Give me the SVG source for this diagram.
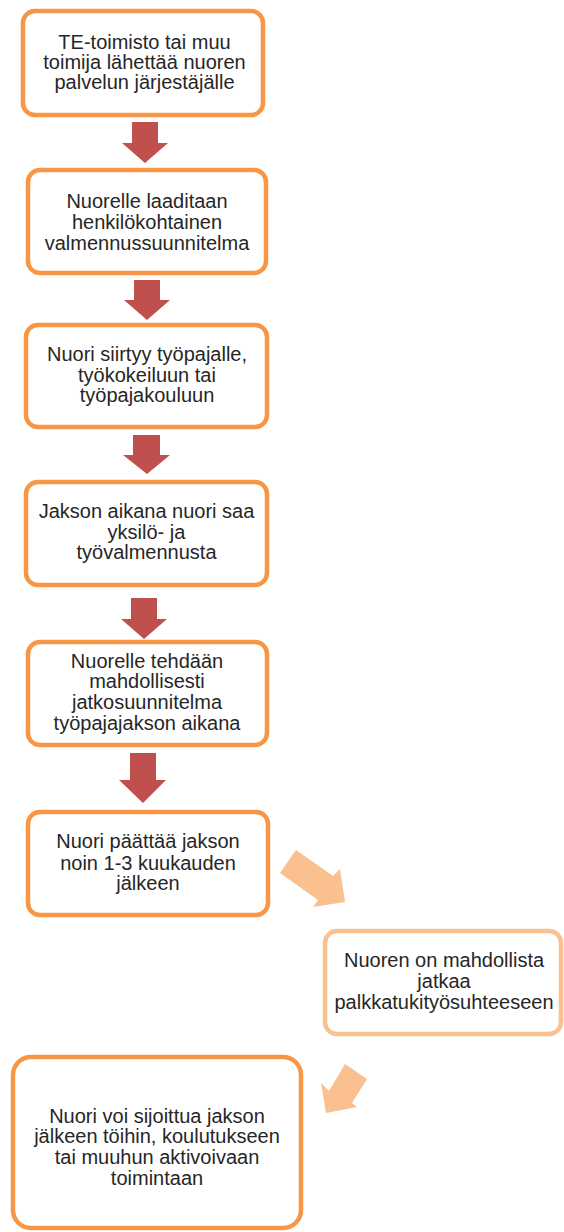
<svg xmlns="http://www.w3.org/2000/svg" width="564" height="1232" viewBox="0 0 564 1232">
<style>
.box{fill:#FFFFFF;stroke:#F79646;stroke-width:4.5}
.lbox{fill:#FFFFFF;stroke:#FAC090;stroke-width:4.5}
.t{font-family:"Liberation Sans",Arial,sans-serif;font-size:20px;fill:#262626;text-anchor:middle}
.down{fill:#C0504D}
.diag{fill:#FAC090}
</style>
<rect width="564" height="1232" fill="#FFFFFF"/>
<g id="connectors">
<polygon class="down" points="132,122 158,122 158,143 168,143 145,163 122,143 132,143"/>
<polygon class="down" points="134,280 160,280 160,300 170,300 147,320 124,300 134,300"/>
<polygon class="down" points="133,435 160,435 160,455 170,455 147,474 123,455 133,455"/>
<polygon class="down" points="131,598 157,598 157,619 167,619 144,639 121,619 131,619"/>
<polygon class="down" points="130,753 156,753 156,780 166,780 143,803 119,780 130,780"/>
<polygon class="diag" points="296,850 333,876 340,869 345,902 313,907 318,900 280,873"/>
<polygon class="diag" points="345,1064 367,1079 352,1103 357,1107 326,1113 321,1083 329,1091"/>
</g>
<g id="n1">
<rect class="box" x="23" y="11" width="240" height="104" rx="12"/>
<text class="t" x="144.5" y="49">TE-toimisto tai muu</text>
<text class="t" x="144.5" y="69">toimija lähettää nuoren</text>
<text class="t" x="144.5" y="89">palvelun järjestäjälle</text>
</g>
<g id="n2">
<rect class="box" x="28" y="170" width="238" height="103" rx="12"/>
<text class="t" x="147" y="208">Nuorelle laaditaan</text>
<text class="t" x="147" y="229">henkilökohtainen</text>
<text class="t" x="147" y="250">valmennussuunnitelma</text>
</g>
<g id="n3">
<rect class="box" x="26" y="325" width="241" height="102" rx="12"/>
<text class="t" x="147" y="361">Nuori siirtyy työpajalle,</text>
<text class="t" x="147" y="382">työkokeiluun tai</text>
<text class="t" x="147" y="402">työpajakouluun</text>
</g>
<g id="n4">
<rect class="box" x="26" y="482" width="241" height="103" rx="12"/>
<text class="t" x="146.5" y="518">Jakson aikana nuori saa</text>
<text class="t" x="146.5" y="539">yksilö- ja</text>
<text class="t" x="146.5" y="559">työvalmennusta</text>
</g>
<g id="n5">
<rect class="box" x="28" y="642" width="239" height="103" rx="12"/>
<text class="t" x="147" y="668">Nuorelle tehdään</text>
<text class="t" x="147" y="688">mahdollisesti</text>
<text class="t" x="147" y="709">jatkosuunnitelma</text>
<text class="t" x="147" y="730">työpajajakson aikana</text>
</g>
<g id="n6">
<rect class="box" x="28" y="812" width="240" height="103" rx="12"/>
<text class="t" x="148" y="848">Nuori päättää jakson</text>
<text class="t" x="148" y="870">noin 1-3 kuukauden</text>
<text class="t" x="148" y="890">jälkeen</text>
</g>
<g id="n7">
<rect class="lbox" x="325" y="931" width="236" height="103" rx="12"/>
<text class="t" x="444" y="967">Nuoren on mahdollista</text>
<text class="t" x="444" y="988">jatkaa</text>
<text class="t" x="444" y="1009">palkkatukityösuhteeseen</text>
</g>
<g id="n8">
<rect class="box" x="13" y="1057" width="288" height="171" rx="18"/>
<text class="t" x="157" y="1123">Nuori voi sijoittua jakson</text>
<text class="t" x="157" y="1143">jälkeen töihin, koulutukseen</text>
<text class="t" x="157" y="1164">tai muuhun aktivoivaan</text>
<text class="t" x="157" y="1185">toimintaan</text>
</g>
</svg>
